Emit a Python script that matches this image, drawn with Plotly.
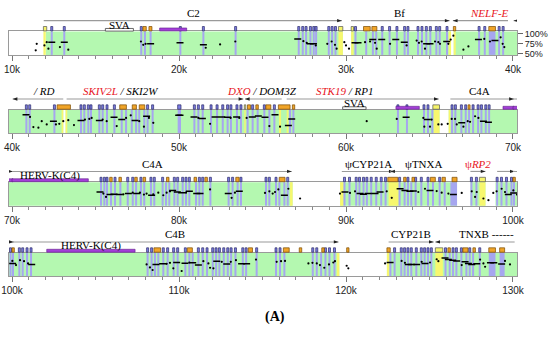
import plotly.graph_objects as go

# ---------------- data (positions in kb, identity in %) ----------------
ROW_START_KB = [10, 40, 70, 100]
ROW_SPAN_KB = 30
TICK_KB = [10, 20, 30, 40, 50, 60, 70, 80, 90, 100, 110, 120, 130]
TICK_TEXT = ['10k', '20k', '30k', '40k', '50k', '60k', '70k', '80k', '90k',
             '100k', '110k', '120k', '130k']
IDENTITY_TICKS = [50, 75, 100]
IDENTITY_TEXT = ['50%', '75%', '100%']

GREEN_KB = [(12.02, 29.81), (30.31, 36.29), (36.45, 43.07), (43.21, 65.6),
            (66.15, 86.8), (89.65, 96.65), (97.45, 98.35), (98.95, 119.6),
            (122.45, 130.3)]
YELLOW_KB = [(11.88, 12.02), (29.55, 29.81), (30.31, 30.45), (36.15, 36.29),
             (36.45, 36.57), (42.97, 43.07), (43.21, 43.31), (53.91, 53.99),
             (55.99, 56.11), (56.45, 56.55), (65.25, 65.6), (66.15, 66.25),
             (86.65, 86.8), (89.65, 89.85), (92.55, 93.15), (97.99, 98.35),
             (119.45, 119.6), (122.45, 122.6), (125.35, 125.8)]
STRIPE_KB = [12.32, 13.07, 17.68, 17.90, 18.24, 20.02, 21.40, 23.33, 27.11, 27.35,
             27.55, 27.81, 28.01, 28.15, 28.91, 29.11, 29.31, 30.51, 31.15, 31.55,
             31.75, 32.11, 32.55, 32.99, 33.45, 33.65, 34.25, 34.49, 34.75, 34.99,
             35.35, 35.55, 35.99, 37.91, 38.25, 39.11, 39.35,
             40.80, 41.00, 42.48, 44.07, 44.27, 44.51, 44.67, 45.17, 45.37, 45.63,
             46.07, 46.51, 46.77, 47.11, 47.37, 47.56, 47.86, 48.06, 48.36, 50.86,
             51.10, 51.36, 51.86, 52.22, 52.56, 52.85, 53.05, 53.41, 53.65, 54.05,
             54.35, 54.65, 55.05, 55.35, 55.65, 56.59, 56.79, 63.05, 63.59, 64.61,
             64.85, 65.11, 66.29, 66.49, 66.85, 67.11, 67.31, 67.55, 67.85, 68.05,
             68.31, 68.51,
             75.27, 75.47, 75.63, 75.87, 76.11, 76.43, 76.87, 77.17, 77.37, 77.66,
             77.86, 78.26, 78.46, 78.96, 79.16, 79.36, 79.66, 79.86, 80.16, 80.36,
             80.56, 80.96, 81.16, 81.36, 81.82, 82.91, 83.15, 83.45, 83.65, 85.15,
             85.35, 85.75, 85.95, 86.25, 86.45, 89.85, 90.15, 90.55, 90.75, 90.99,
             91.19, 91.45, 91.75, 92.05, 92.31, 93.15, 93.45, 93.65, 93.85, 94.11,
             94.45, 94.85, 95.15, 95.55, 95.85, 97.45, 97.75, 98.99, 99.25, 99.55,
             99.85,
             100.0, 100.38, 100.58, 100.84, 101.08, 108.06, 108.30, 108.50, 108.70,
             109.0, 109.26, 109.62, 109.86, 110.32, 110.56, 110.76, 111.10, 111.36,
             111.62, 111.96, 112.16, 112.36, 112.62, 112.86, 113.06, 113.32, 113.76,
             113.96, 114.59, 115.75, 115.99, 116.25, 117.95, 118.19, 118.45, 118.71,
             118.95, 119.25, 122.6, 122.85, 123.25, 123.45, 123.65, 123.85, 124.15,
             124.45, 124.65, 124.85, 125.05, 125.9, 126.15, 126.35, 126.55, 126.85,
             127.15, 127.35, 127.55, 127.95]
WIDE_STRIPE_KB = [(38.55, 38.95), (49.92, 50.12), (96.25, 96.65), (128.55, 128.95),
                  (129.2, 129.5)]
ORANGE_BOX_KB = [(17.84, 18.04), (18.20, 18.38), (31.05, 31.45), (31.55, 31.85),
                 (36.43, 36.57), (38.55, 38.95),
                 (42.7, 43.5), (46.45, 46.85), (47.2, 47.45), (47.62, 47.95),
                 (54.1, 54.28), (54.6, 54.75), (55.2, 55.5), (55.95, 56.65),
                 (56.79, 56.93), (67.31, 67.43),
                 (75.85, 76.0), (76.4, 76.55), (77.35, 77.5), (77.85, 78.0),
                 (79.25, 79.4), (80.9, 81.05), (81.55, 81.7), (83.4, 83.6),
                 (86.0, 86.35), (92.5, 93.1), (93.45, 93.6), (93.95, 94.1),
                 (95.05, 95.35), (95.75, 95.95), (96.35, 96.65),
                 (100.0, 100.14), (108.5, 108.9), (110.5, 110.8), (114.15, 114.4),
                 (116.25, 116.6), (117.2, 117.35), (118.55, 118.7), (120.04, 120.18),
                 (122.45, 122.65), (126.1, 126.25), (127.0, 127.3), (127.6, 127.75),
                 (128.55, 128.95), (129.2, 129.5)]
YELLOW_BOX_KB = [(11.88, 12.08), (29.55, 29.81), (30.31, 30.45), (53.91, 54.0),
                 (65.2, 65.6), (97.99, 98.35), (125.35, 125.8)]
REPEAT_KB = [(18.84, 20.46), (62.99, 64.39), (69.4, 70.06), (70.0, 74.57),
             (102.08, 107.37)]
REPEAT_LABEL = ['', '', '', 'HERV-K(C4)', 'HERV-K(C4)']
SVA_KB = [(15.59, 17.27), (59.8, 61.2)]

GENE_NAME = ['C2', 'Bf', 'NELF-E', '/ RD', 'SKIV2L / SKI2W', 'DXO / DOM3Z',
             'STK19 / RP1', 'C4A', 'C4A', 'ψCYP21A', 'ψTNXA', 'ψRP2', '',
             'C4B', 'CYP21B', 'TNXB ------']
GENE_START_KB = [11.9, 30.3, 36.4, 40.04, 43.27, 53.95, 56.45, 66.25, 70.0, 89.75,
                 92.65, 97.45, 99.05, 100.0, 122.55, 125.35]
GENE_END_KB = [29.75, 36.2, 39.7, 43.07, 53.85, 56.15, 65.55, 70.05, 86.75, 92.85,
               96.65, 98.35, 100.1, 119.55, 125.25, 130.1]
GENE_STRAND = ['+', '+', '-', '-', '+', '-', '+', '+', '+', '+', '-', '+', '+', '+',
               '+', '-']
GENE_LABEL_KB = [20.86, 33.2, 38.6, 41.9, 46.47, 54.97, 59.94, 68.0, 78.4, 91.35,
                 94.65, 97.9, 99.5, 109.76, 123.9, 128.4]
NEW_GENES = {'NELF-E', 'SKIV2L', 'DXO', 'STK19', 'ψRP2'}
ITALIC_NAMES = {'NELF-E', 'RD', 'SKIV2L', 'SKI2W', 'DXO', 'DOM3Z', 'STK19', 'RP1', 'RP2'}

DOT_KB = [11.48, 11.42, 11.94, 12.08, 12.18, 12.87, 13.37, 17.72, 17.86, 18.0, 21.6,
          22.46, 23.37, 27.45, 27.65, 28.19, 28.88, 29.14, 29.34, 29.44, 29.9, 30.0,
          30.18, 31.14, 31.44, 31.74, 31.84, 32.64, 33.63, 34.23, 34.37, 34.53, 34.73,
          35.33, 35.53, 35.63, 36.13, 36.27, 36.43, 37.03, 37.33, 38.28, 38.62, 39.26,
          39.38, 39.48,
          41.08, 41.28, 41.58, 41.78, 42.08, 42.63, 42.83, 43.07, 43.37, 43.71, 44.37,
          44.63, 44.77, 45.43, 45.67, 46.27, 46.83, 47.11, 47.62, 47.90, 48.20, 48.46,
          51.16, 51.86, 53.09, 53.61, 54.05, 55.41, 56.05, 61.24, 63.04, 64.63, 64.69,
          65.03, 65.13, 65.53, 65.73, 66.09, 66.33, 66.53, 66.63, 67.03, 67.29, 67.43,
          67.73, 67.93,
          75.47, 75.63, 76.67, 77.23, 77.66, 77.90, 78.06, 78.46, 78.76, 79.06, 79.26,
          79.46, 80.42, 81.86, 83.15, 83.35, 85.15, 85.41, 85.61, 85.75, 85.95, 86.55,
          87.25, 89.64, 90.24, 90.54, 92.44, 92.74, 94.33, 94.73, 95.43, 95.73, 96.13,
          96.93, 97.53, 97.73, 97.83, 98.23, 98.53, 98.82, 99.02, 99.32, 99.52, 100.02,
          100.24, 100.48, 100.72, 100.96, 108.06, 108.26, 108.42, 109.26, 109.46,
          109.66, 110.16, 110.62, 111.46, 111.76, 111.86, 112.06, 112.56, 113.10,
          113.41, 114.61, 115.85, 116.11, 116.35, 117.75, 117.99, 118.25, 118.44,
          118.70, 118.98, 119.24, 119.34, 120.04, 120.14, 122.34, 123.33, 123.53,
          124.53, 125.03, 125.43, 125.53, 126.93, 128.03, 128.23, 128.33, 129.52,
          129.82]
DOT_PCT = [74.6, 58.7, 70.6, 78.6, 62.7, 66.7, 60.3, 80.2, 72.2, 74.6, 65.0,
           73.0, 80.2, 81.0, 77.0, 70.6, 74.6, 80.2, 72.2, 62.7, 78.6, 70.6,
           62.7, 78.6, 80.2, 77.0, 62.7, 74.6, 70.6, 82.5, 77.0, 80.2, 62.7,
           80.2, 78.6, 74.6, 74.6, 84.9, 94.4, 60.3, 68.3, 86.5, 80.2, 90.5,
           74.6, 66.7,
           87.3, 62.7, 61.1, 77.0, 69.0, 69.0, 70.6, 77.0, 79.4, 67.4, 80.9,
           82.5, 84.9, 80.9, 77.0, 65.1, 84.9, 91.3, 77.0, 63.5, 84.9, 73.0,
           84.9, 70.6, 84.9, 84.9, 84.9, 65.1, 63.5, 77.0, 82.5, 84.9, 63.5,
           63.5, 80.9, 69.0, 69.0, 70.6, 82.5, 82.5, 69.0, 63.5, 77.0, 75.4,
           88.9, 84.9,
           77.0, 69.0, 75.4, 79.4, 79.4, 74.6, 77.0, 75.4, 79.4, 73.0, 79.4,
           82.5, 79.4, 87.3, 66.7, 79.4, 78.6, 82.5, 77.0, 80.9, 87.3, 88.9,
           65.1, 77.0, 78.6, 82.5, 82.5, 66.7, 80.9, 88.9, 83.3, 79.4, 77.0,
           78.6, 82.5, 69.0, 80.9, 65.1, 61.1, 78.6, 82.5, 88.9, 80.9, 84.9,
           74.6, 86.5, 84.1, 78.6, 76.2, 69.0, 62.7, 77.8, 80.2,
           66.7, 60.3, 80.9, 84.1, 78.6, 68.2, 66.7, 82.5, 82.5,
           86.5, 88.1, 82.5, 84.1, 84.9, 78.6, 80.2, 78.6, 74.6,
           68.2, 76.2, 80.9, 84.1, 73.0, 66.7, 78.6, 84.9, 80.2,
           82.5, 80.9, 88.9, 84.1, 74.6, 88.1, 78.6, 70.6, 84.9,
           76.2]
DASH_KB = [12.38, 13.13, 18.30, 20.06, 21.46, 27.11, 27.85, 28.05, 30.54, 30.72, 31.6,
           32.14, 32.98, 33.49, 34.83, 35.03, 36.03, 37.93, 38.92,
           40.84, 42.48, 44.13, 45.23, 46.11, 46.57, 47.37, 48.06, 49.98, 50.06, 50.90,
           51.40, 52.16, 52.56, 52.91, 53.45, 54.39, 54.75, 55.15, 55.75, 56.55, 56.75,
           63.6, 64.87, 66.93, 68.23, 68.53,
           75.27, 75.87, 76.11, 76.43, 76.97, 77.47, 78.36, 79.62, 79.90, 80.16, 80.62,
           81.06, 81.26, 82.95, 83.61, 86.31, 89.94, 90.84, 91.04, 91.34, 91.74, 92.04,
           93.24, 93.53, 93.83, 94.03, 95.03, 96.43, 99.72,
           100.04, 101.18, 108.62, 109.02, 109.86, 110.36, 110.82, 111.16, 112.26,
           112.86, 113.75, 114.05, 122.64, 123.73, 123.93, 124.23, 124.73, 125.93,
           126.13, 126.39, 126.63, 127.13, 127.33, 127.53, 127.83, 128.65, 128.85,
           129.32]
DASH_PCT = [78.6, 78.6, 74.6, 77.0, 72.2, 86.5, 74.6, 74.6, 77.0, 77.0, 84.9,
            84.9, 84.9, 78.6, 74.6, 74.6, 80.2, 84.9, 82.5,
            92.9, 77.0, 78.6, 78.6, 86.5, 80.9, 78.6, 88.9, 91.3, 91.3, 87.3,
            83.3, 87.3, 87.3, 86.5, 87.3, 87.3, 89.7, 86.5, 92.9, 66.7, 82.5,
            86.5, 80.9, 73.0, 77.0, 74.6,
            80.9, 74.6, 75.4, 74.6, 77.0, 77.0, 73.0, 84.9, 80.9, 79.4, 82.5,
            77.0, 77.0, 77.0, 82.5, 73.0, 80.9, 77.0, 75.4, 77.0, 77.0, 80.9,
            88.9, 84.9, 82.5, 83.3, 84.9, 74.6, 74.6,
            78.6, 76.2, 76.2, 77.8, 80.9, 79.4, 80.2, 74.6, 84.1,
            77.0, 77.8, 77.8, 80.9, 76.2, 76.2, 76.2, 78.6, 92.1,
            88.1, 86.5, 84.9, 82.5, 78.6, 76.2, 77.8, 80.2, 80.2,
            77.0]

# ---------------- styling / geometry ----------------
W, H = 550, 337
ML, MR = 9, 33
ROW_TOP_PX = [29, 109, 183, 255]
BOX_H = 24
PAD_LO, PAD_HI = 0.18, 0.24      # kb padding left / right of each row
STRIPE_W = 0.12
GREEN_C = '#b4f8b0'
STRIPE_C = '#a6a6ef'
YELLOW_C = '#f7f76e'
SERIF = 'Liberation Serif, Times New Roman, serif'
SANS = 'Liberation Sans, Arial, sans-serif'


def P(px):
    return 1 - px / H


def fmt(name):
    if name.startswith('/ '):
        return '<i>' + name + '</i>'
    parts = name.split(' / ')
    out = []
    for p in parts:
        core = p.lstrip('ψ')
        psi = p[:len(p) - len(core)]
        txt = psi + ('<i>' + core + '</i>' if core in ITALIC_NAMES else core)
        if p in NEW_GENES:
            txt = '<span style="color:#e8141c">' + txt + '</span>'
        out.append(txt)
    return '<i> / </i>'.join(out)


def label(text, x, xref, ypx, size=11, family=SERIF):
    return dict(text=text, x=x, xref=xref, y=P(ypx), yref='paper', showarrow=False,
                xanchor='center', yanchor='middle',
                font=dict(family=family, size=size, color='black'))


fig = go.Figure()
shapes, annotations = [], []
layout = {}

for i, s in enumerate(ROW_START_KB):
    sfx = '' if i == 0 else str(i + 1)
    xa, ya = 'x' + sfx, 'y' + sfx
    lo, hi = s - PAD_LO, s + ROW_SPAN_KB + PAD_HI
    T = ROW_TOP_PX[i]

    def vis(a, b):
        return b > lo and a < hi

    def rect_in(a, b, color):
        shapes.append(dict(type='rect', xref=xa, yref=ya + ' domain', x0=a * 1000,
                           x1=b * 1000, y0=0, y1=1, fillcolor=color,
                           line=dict(width=0), layer='below'))

    def rect_top(a, b, y0px, y1px, fill, lc, lw=0.7):
        shapes.append(dict(type='rect', xref=xa, yref='paper', x0=a * 1000,
                           x1=b * 1000, y0=P(y0px), y1=P(y1px), fillcolor=fill,
                           line=dict(width=lw, color=lc), layer='above'))

    for a, b in GREEN_KB:
        if vis(a, b):
            rect_in(a, b, GREEN_C)
    for a, b in YELLOW_KB:
        if vis(a, b):
            rect_in(a, b, YELLOW_C)
    stripes = [(a, a + STRIPE_W) for a in STRIPE_KB] + WIDE_STRIPE_KB
    for a, b in stripes:
        if vis(a, b):
            rect_in(a, b, STRIPE_C)

    # exon boxes above the panel
    special = ORANGE_BOX_KB + YELLOW_BOX_KB
    for a, b in stripes:
        if vis(a, b) and not any(a < d and b > c for c, d in special):
            rect_top(a, b, T - 0.5, T - 5, '#7e7ee6', '#2a2a66')
    for a, b in ORANGE_BOX_KB:
        if vis(a, b):
            rect_top(a, b, T - 0.5, T - 5, '#f0a428', '#7a4a00')
    for a, b in YELLOW_BOX_KB:
        if vis(a, b):
            rect_top(a, b, T - 0.5, T - 5, '#f6f46a', '#555555')
    for (a, b), lab in zip(REPEAT_KB, REPEAT_LABEL):
        if vis(a, b):
            rect_top(a, b, T - 0.5, T - 3.5, '#a43fd8', '#5e2088', 0.6)
            c = (a + b) / 2
            if lab and lo < c < hi:
                annotations.append(label(lab, c * 1000, xa, T - 7))
    for a, b in SVA_KB:
        if vis(a, b):
            rect_top(a, b, T - 0.3, T - 3, 'white', '#444444', 0.8)
            annotations.append(label('SVA', (a + b) / 2 * 1000, xa, T - 6.5))

    # genes: line + arrowhead + label
    yl = T - 11
    for name, a, b, st, lab in zip(GENE_NAME, GENE_START_KB, GENE_END_KB,
                                   GENE_STRAND, GENE_LABEL_KB):
        if not vis(a, b):
            continue
        shapes.append(dict(type='line', xref=xa, yref='paper', x0=a * 1000,
                           x1=b * 1000, y0=P(yl), y1=P(yl),
                           line=dict(color='#9a9a9a', width=1.1)))
        tip = b if st == '+' else a
        if lo <= tip <= hi:
            base = tip - 0.28 if st == '+' else tip + 0.28
            shapes.append(dict(type='path', xref=xa, yref='paper',
                               path=f'M{tip*1000},{P(yl)} L{base*1000},{P(yl-1.7)} '
                                    f'L{base*1000},{P(yl+1.7)} Z',
                               fillcolor='#222222', line=dict(width=0)))
        if name and lo < lab < hi:
            annotations.append(label(fmt(name), lab * 1000, xa, T - 19))

    # identity points
    dx = [x * 1000 for x in DOT_KB if lo <= x <= hi]
    dy = [y for x, y in zip(DOT_KB, DOT_PCT) if lo <= x <= hi]
    fig.add_trace(go.Scatter(x=dx, y=dy, xaxis=xa, yaxis=ya, mode='markers',
                             marker=dict(size=2.2, color='black'), hoverinfo='skip'))
    sx = [x * 1000 for x in DASH_KB if lo <= x <= hi]
    sy = [y for x, y in zip(DASH_KB, DASH_PCT) if lo <= x <= hi]
    fig.add_trace(go.Scatter(x=sx, y=sy, xaxis=xa, yaxis=ya, mode='markers',
                             marker=dict(symbol='line-ew', size=5,
                                         line=dict(width=1.5, color='black')),
                             hoverinfo='skip'))

    tv = [t * 1000 for t in TICK_KB if lo <= t <= hi]
    tt = [txt for t, txt in zip(TICK_KB, TICK_TEXT) if lo <= t <= hi]
    minor_v = [k * 1000 for k in range(int(s), int(s) + ROW_SPAN_KB + 1)]
    layout['xaxis' + sfx] = dict(
        domain=[0, 1], anchor=ya, range=[lo * 1000, hi * 1000],
        showline=True, mirror=True, linecolor='#9a9a9a', linewidth=1,
        showgrid=False, zeroline=False, ticks='outside', ticklen=5, tickwidth=1,
        tickcolor='#777777', tickmode='array', tickvals=tv, ticktext=tt,
        tickfont=dict(family=SANS, size=10, color='#222222'),
        minor=dict(tickmode='array', tickvals=minor_v, ticks='outside', ticklen=3,
                   tickcolor='#888888', showgrid=False),
        fixedrange=True)
    ydom = [P(T + BOX_H), P(T)]
    yax = dict(domain=ydom, anchor=xa, range=[47.6, 104.8], showline=True,
               mirror=True, linecolor='#9a9a9a', linewidth=1, showgrid=False,
               zeroline=False, fixedrange=True)
    if i == 0:
        yax.update(side='right', tickmode='array', tickvals=IDENTITY_TICKS,
                   ticktext=IDENTITY_TEXT, ticks='outside', ticklen=5,
                   tickcolor='#666666', showticklabels=True,
                   tickfont=dict(family=SANS, size=9, color='#222222'))
    else:
        yax.update(showticklabels=False, ticks='')
    layout['yaxis' + sfx] = yax

annotations.append(label('<b>(A)</b>', (275 - ML) / (W - ML - MR), 'paper', 321,
                         size=14))

fig.update_layout(width=W, height=H, margin=dict(l=ML, r=MR, t=0, b=0),
                  paper_bgcolor='white', plot_bgcolor='white', showlegend=False,
                  shapes=shapes, annotations=annotations, **layout)

fig.write_html("out.html", config={'displayModeBar': False},
               post_script="document.body.style.margin='0px';")
